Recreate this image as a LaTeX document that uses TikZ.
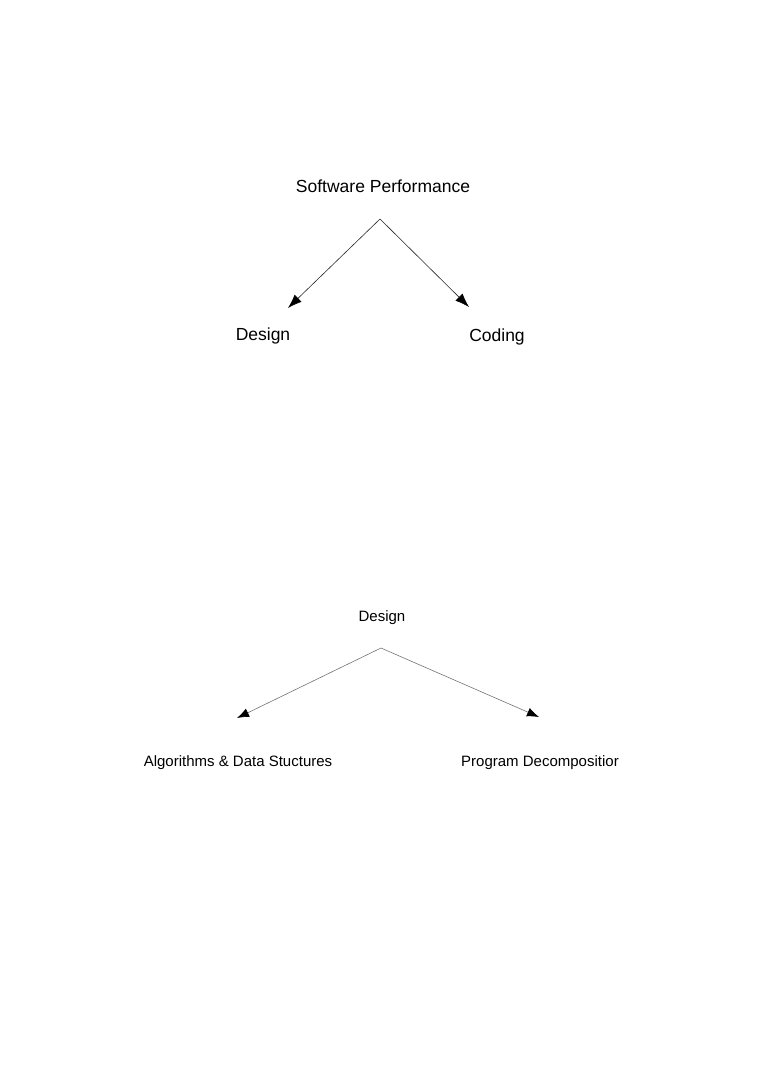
\documentclass[tikz,border=0pt]{standalone}
\usepackage{fontspec}
\setmainfont{Liberation Sans}
\usetikzlibrary{calc, arrows.meta}

\begin{document}
\begin{tikzpicture}[x=1pt, y=-1pt,
    big/.style={anchor=base, inner sep=0pt, font=\fontsize{17.5}{20}\selectfont},
    small/.style={anchor=base, inner sep=0pt, font=\fontsize{15}{18}\selectfont},
    arrA/.style={-{Latex[length=14pt, width=10pt, color=black]}, line width=0.6pt, black!85},
    arrB/.style={-{Latex[length=12pt, width=9pt, color=black]}, line width=0.6pt, black!55}]
    \useasboundingbox (0, 0) rectangle (761, 1076);

	\node (Perf) at (383, 192) [big] {Software Performance};
	\node (DesA) at (263, 340) [big] {Design};
	\node (Code) at (497, 341) [big] {Coding};
	\coordinate (TopA) at ($(Perf.base) + (-3, 27)$);
	\coordinate (EndD) at ($(DesA.base) + (25, -32)$);
	\coordinate (EndC) at ($(Code.base) + (-28, -34)$);

	\draw [arrA] (TopA) -- (EndD);
	\draw [arrA] (TopA) -- (EndC);

	\node (DesB) at (382, 621) [small] {Design};
	\node (Algo) at (238, 766) [small] {Algorithms \& Data Stuctures};
	\node (Prog) at (540, 766) [small] {Program Decompositior};
	\coordinate (TopB) at ($(DesB.base) + (-1, 27)$);
	\coordinate (EndA) at ($(Algo.base) + (-1, -48)$);
	\coordinate (EndP) at ($(Prog.base) + (-1, -49)$);

	\draw [arrB] (TopB) -- (EndA);
	\draw [arrB] (TopB) -- (EndP);
\end{tikzpicture}
\end{document}
